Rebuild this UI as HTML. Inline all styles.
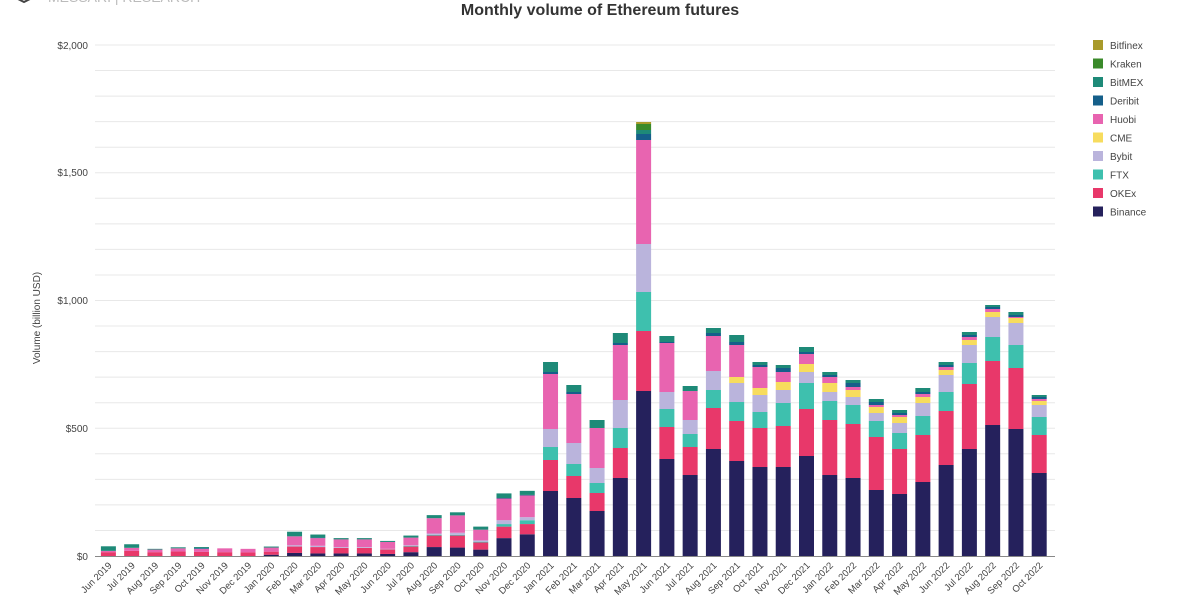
<!DOCTYPE html>
<html><head><meta charset="utf-8"><style>
body{margin:0;background:#fff;width:1200px;height:597px;overflow:hidden;font-family:"Liberation Sans",sans-serif}
svg text{font-family:"Liberation Sans",sans-serif}
</style></head><body>
<svg id="s" width="1200" height="597" xmlns="http://www.w3.org/2000/svg">
<text x="600" y="15" text-anchor="middle" font-size="16" font-weight="bold" fill="#333">Monthly volume of Ethereum futures</text>
<text x="48" y="2" font-size="14" fill="#bbb">MESSARI | RESEARCH</text>
<path d="M12,-4 L24,2 L36,-4" stroke="#444" stroke-width="2" fill="none"/>
<g id="grid"></g>
<g font-size="10" fill="#444" text-anchor="end">
<text x="88" y="49">$2,000</text>
<text x="88" y="176">$1,500</text>
<text x="88" y="304">$1,000</text>
<text x="88" y="432">$500</text>
<text x="88" y="560">$0</text>
</g>
<text transform="translate(40,318) rotate(-90)" font-size="10" fill="#444" text-anchor="middle">Volume (billion USD)</text>
<g id="bars"></g>
<line x1="95" y1="556.5" x2="1055" y2="556.5" stroke="#888" stroke-width="1"/>
<g id="xl" font-size="9.5" fill="#444" text-anchor="end">
<text>Jun 2019</text><text>Jul 2019</text><text>Aug 2019</text><text>Sep 2019</text><text>Oct 2019</text><text>Nov 2019</text><text>Dec 2019</text><text>Jan 2020</text><text>Feb 2020</text><text>Mar 2020</text><text>Apr 2020</text><text>May 2020</text><text>Jun 2020</text><text>Jul 2020</text><text>Aug 2020</text><text>Sep 2020</text><text>Oct 2020</text><text>Nov 2020</text><text>Dec 2020</text><text>Jan 2021</text><text>Feb 2021</text><text>Mar 2021</text><text>Apr 2021</text><text>May 2021</text><text>Jun 2021</text><text>Jul 2021</text><text>Aug 2021</text><text>Sep 2021</text><text>Oct 2021</text><text>Nov 2021</text><text>Dec 2021</text><text>Jan 2022</text><text>Feb 2022</text><text>Mar 2022</text><text>Apr 2022</text><text>May 2022</text><text>Jun 2022</text><text>Jul 2022</text><text>Aug 2022</text><text>Sep 2022</text><text>Oct 2022</text>
</g>
<g font-size="10" fill="#444">
<rect x="1093" y="40" width="10" height="10" fill="#a89a2a"/><text x="1110" y="49">Bitfinex</text>
<rect x="1093" y="58.5" width="10" height="10" fill="#3a8a2a"/><text x="1110" y="67.5">Kraken</text>
<rect x="1093" y="77" width="10" height="10" fill="#1e8a78"/><text x="1110" y="86">BitMEX</text>
<rect x="1093" y="95.5" width="10" height="10" fill="#155f8a"/><text x="1110" y="104.5">Deribit</text>
<rect x="1093" y="114" width="10" height="10" fill="#e864b0"/><text x="1110" y="123">Huobi</text>
<rect x="1093" y="132.5" width="10" height="10" fill="#f7dc5e"/><text x="1110" y="141.5">CME</text>
<rect x="1093" y="151" width="10" height="10" fill="#bab4dc"/><text x="1110" y="160">Bybit</text>
<rect x="1093" y="169.5" width="10" height="10" fill="#3ec0ae"/><text x="1110" y="178.5">FTX</text>
<rect x="1093" y="188" width="10" height="10" fill="#e8386a"/><text x="1110" y="197">OKEx</text>
<rect x="1093" y="206.5" width="10" height="10" fill="#25215c"/><text x="1110" y="215.5">Binance</text>
</g>
</svg>
<script>
var NS="http://www.w3.org/2000/svg";
var C=["#25215c","#e8386a","#3ec0ae","#bab4dc","#f7dc5e","#e864b0","#155f8a","#1e8a78","#3a8a2a","#a89a2a"];
var g=document.getElementById("grid");
for(var i=1;i<=20;i++){var y=556-i*25.55;var l=document.createElementNS(NS,"line");l.setAttribute("x1",95);l.setAttribute("x2",1055);l.setAttribute("y1",y);l.setAttribute("y2",y);l.setAttribute("stroke","#e8e8e8");g.appendChild(l);}
// early bars values (bn): Binance,OKEx,FTX,Bybit,CME,Huobi,Deribit,BitMEX
var early=[
[0,15,0,0,0,5,0,18],[0,20,0,0,0,12,0,14],[0,15,0,0,0,10,0,3],[0,18,0,0,0,12,0,4],[0,16,0,0,0,12,3,4],
[0,15,0,0,0,15,0,0],[0,14,0,0,0,14,0,0],[5,12,0,0,0,16,0,4],[12,25,0,5,0,35,0,18],[10,25,0,5,0,30,2,12],
[10,22,0,3,0,30,0,5],[10,22,0,3,0,30,0,5],[8,18,0,2,0,27,0,4],[15,22,2,3,0,30,0,8],[35,45,3,5,0,60,0,12],
[33,47,3,8,0,68,0,12],[25,28,3,5,0,42,0,12],[70,45,10,15,0,85,2,18],[85,40,15,12,0,85,2,16]];
var late=[
[491,460,447,429,429,374,372,362],[498,476,464,443,443,394,392,385],[511,493,483,468,468,428,428,420],
[478,448,428,400,400,345,343,333],[391,331,292,244,244,140,134,130,124,122],[459,427,409,392,392,343,342,336],
[475,447,434,420,420,391,391,386],[449,408,390,371,371,336,333,328],[461,421,402,383,377,345,342,335],
[467,428,412,395,388,367,365,362],[467,426,403,390,382,372,368,365],[456,409,383,372,364,354,352,347],
[475,420,401,392,383,377,375,372],[478,424,405,397,390,387,383,380],[490,437,421,413,407,405,402,399],
[494,449,433,423,417,415,413,410],[482,435,416,403,397,394,392,388],[465,411,392,375,370,367,365,362],
[449,384,363,345,340,337,335,332],[425,361,337,317,312,309,307,305],[429,368,345,323,318,317,315,312],
[473,435,417,405,401,399,397,395]];
var tops=[];
early.forEach(function(v){var c=556,t=[];v.forEach(function(x){c-=x*0.2555;t.push(c);});tops.push(t);});
late.forEach(function(t){tops.push(t);});
var b=document.getElementById("bars");
tops.forEach(function(t,i){var cx=108.4+i*23.27,prev=556;
 t.forEach(function(y,k){if(prev-y>0.2){var r=document.createElementNS(NS,"rect");r.setAttribute("x",cx-7.5);r.setAttribute("width",15);r.setAttribute("y",y);r.setAttribute("height",prev-y);r.setAttribute("fill",C[k]);b.appendChild(r);}prev=Math.min(prev,y);});
});
var xl=document.getElementById("xl").children;
for(var i=0;i<xl.length;i++){var cx=108.4+i*23.27+4;xl[i].setAttribute("x",cx);xl[i].setAttribute("y",566);xl[i].setAttribute("transform","rotate(-45,"+cx+",566)");}
</script>
</body></html>
